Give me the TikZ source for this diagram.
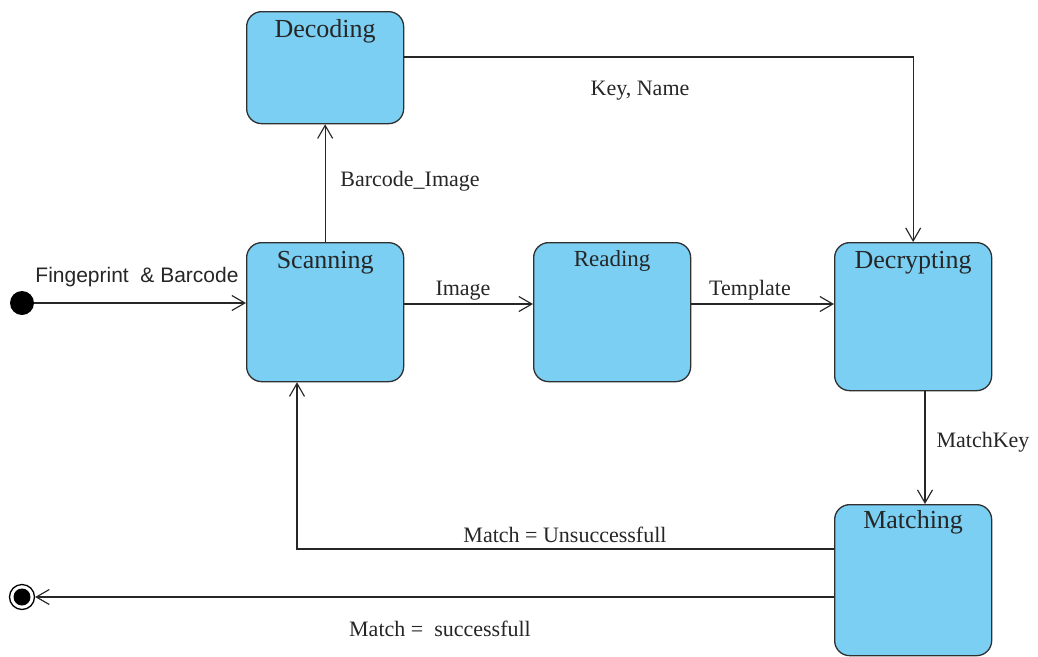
\documentclass[tikz,border=0pt]{standalone}
\usepackage{fontspec}
\setmainfont{Liberation Serif}
\newfontfamily\labelsans{Liberation Sans}
\usetikzlibrary{arrows.meta,calc}

\definecolor{statefill}{HTML}{7ACFF3}
\definecolor{stateline}{HTML}{303030}

\tikzset{
  state/.style={draw=stateline, fill=statefill, line width=1.3pt,
    rounded corners=15pt, minimum width=157pt, inner sep=0pt, anchor=north west},
  title/.style={anchor=base, font=\fontsize{26}{30}\selectfont, text=black!85},
  smalltitle/.style={title, font=\fontsize{23}{27}\selectfont},
  lbl/.style={anchor=base, font=\fontsize{22}{26}\selectfont, text=black!85},
  flow/.style={draw=black!85, line width=1.15pt,
    -{Straight Barb[length=13pt,width=15pt,line width=1.15pt]}},
  initial/.style={circle, fill=black, minimum size=24pt, inner sep=0pt},
  final/.style={circle, draw=black, line width=1.3pt, minimum size=25pt, inner sep=0pt,
    path picture={\fill[black] (path picture bounding box.center) circle (8.5pt);}},
}

\begin{document}
\begin{tikzpicture}[x=1pt, y=-1pt]
  \useasboundingbox (0,0) rectangle (1038,656);

  % states
  \node[state, minimum height=112pt] (dec)   at (246,11)  {};
  \node[state, minimum height=139pt] (scan)  at (246,242) {};
  \node[state, minimum height=139pt] (read)  at (533,242) {};
  \node[state, minimum height=148pt] (decr)  at (834,242) {};
  \node[state, minimum height=151pt] (match) at (834,504) {};

  % state names
  \node[title]      (decT)   at ($(dec.north)+(0,26)$)   {Decoding};
  \node[title]      (scanT)  at ($(scan.north)+(0,26)$)  {Scanning};
  \node[smalltitle] (readT)  at ($(read.north)+(0,24)$)  {Reading};
  \node[title]      (decrT)  at ($(decr.north)+(0,26)$)  {Decrypting};
  \node[title]      (matchT) at ($(match.north)+(0,24)$) {Matching};

  % pseudo states
  \node[initial] (start) at (22,303) {};
  \node[final]   (stop)  at (22,597) {};

  % routing helpers
  \coordinate (row)    at (0,304);
  \coordinate (top)    at (0,57);
  \coordinate (downx)  at (925,0);
  \coordinate (failY)  at (0,549);
  \coordinate (backX)  at (297,0);

  % transitions
  \draw[flow] (start.east) -- (start.east -| scan.west);
  \draw[flow] (scan.north) -- (dec.south);
  \draw[flow] (scan.east |- row) -- (read.west |- row);
  \draw[flow] (read.east |- row) -- (decr.west |- row);
  \draw[flow] (dec.east |- top) -| (decr.north);
  \draw[flow] (decr.south -| downx) -- (match.north -| downx);
  \draw[flow] (match.west |- failY) -| (scan.south -| backX);
  \draw[flow] (match.west |- stop) -- (stop.east);

  % transition labels
  \node[anchor=base, font=\labelsans\fontsize{21}{25}\selectfont, text=black!85]
        (lStart) at (137,282) {Fingeprint\ \ \&\ Barcode};
  \node[lbl] (lBar)   at (410,186) {Barcode\_Image};
  \node[lbl] (lKey)   at (640,95)  {Key, Name};
  \node[lbl] (lImg)   at (463,295) {Image};
  \node[lbl] (lTpl)   at (750,295) {Template};
  \node[lbl] (lMk)    at (983,447) {MatchKey};
  \node[lbl] (lFail)  at (565,542) {Match = Unsuccessfull};
  \node[lbl] (lOk)    at (440,636) {Match =\ \ successfull};
\end{tikzpicture}
\end{document}
